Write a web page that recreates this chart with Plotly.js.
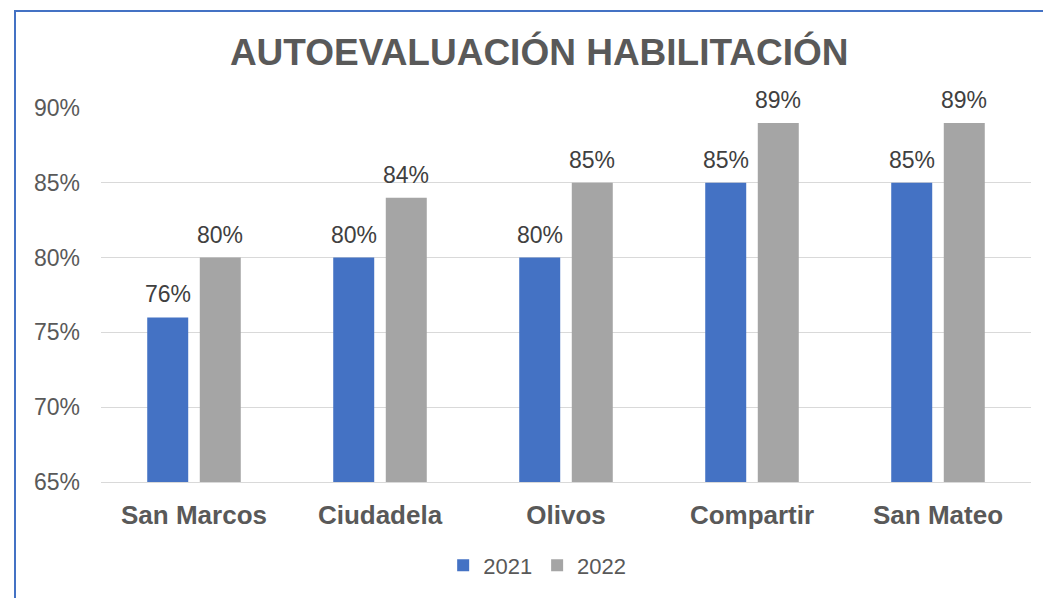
<!DOCTYPE html>
<html>
<head>
<meta charset="utf-8">
<script src="https://cdn.plot.ly/plotly-3.0.1.min.js"></script>
<style>
  body { margin: 0; background: #fff; }
  #wrap { position: relative; width: 1043px; height: 598px; overflow: hidden; }
  #chart { width: 1043px; height: 598px; }
  #frame {
    position: absolute; left: 14px; top: 10px; width: 1100px; height: 700px;
    border-left: 2px solid #4472C4; border-top: 2px solid #4472C4;
    pointer-events: none;
  }
</style>
</head>
<body>
<div id="wrap">
  <div id="chart"></div>
  <div id="frame"></div>
</div>
<script>
// self-assessment scores per site, in percent
const sites = ['San Marcos', 'Ciudadela', 'Olivos', 'Compartir', 'San Mateo'];
const scores2021 = [76, 80, 80, 85, 85];
const scores2022 = [80, 84, 85, 89, 89];

const FONT = 'Liberation Sans, Arial, sans-serif';
const GREY_TEXT = '#595959';

function barTrace(name, vals, color) {
  return {
    type: 'bar', name: name, x: sites, y: vals,
    marker: { color: color },
    hoverinfo: 'skip'
  };
}

const data = [
  barTrace('2021', scores2021, '#4472C4'),
  barTrace('2022', scores2022, '#A5A5A5')
];

// data labels, a bit above each bar (Excel style)
function labels(vals, shift) {
  return vals.map((v, i) => ({
    x: sites[i], y: v, xref: 'x', yref: 'y',
    text: v + '%', showarrow: false,
    xshift: shift, yanchor: 'bottom', yshift: 8,
    font: { family: FONT, size: 23, color: '#404040' }
  }));
}

const layout = {
  width: 1043, height: 598,
  paper_bgcolor: '#fff', plot_bgcolor: '#fff',
  margin: { l: 101, r: 12, t: 108, b: 114 },
  font: { family: FONT, color: GREY_TEXT },
  title: {
    text: '<b>AUTOEVALUACIÓN HABILITACIÓN</b>',
    font: { family: FONT, size: 37, color: GREY_TEXT },
    x: 0.517, xanchor: 'center', y: 1 - 52 / 598, yanchor: 'middle'
  },
  barmode: 'group', bargap: 0.435, bargroupgap: 0.22,
  xaxis: {
    tickfont: { family: FONT, size: 26, color: GREY_TEXT, weight: 'bold' },
    showline: true, linecolor: '#d9d9d9', linewidth: 1,
    ticks: '', ticklabelstandoff: 10
  },
  yaxis: {
    range: [65, 90], dtick: 5, ticksuffix: '%',
    tickfont: { family: FONT, size: 23, color: GREY_TEXT },
    gridcolor: '#d9d9d9', gridwidth: 1, zeroline: false,
    ticks: '', ticklabelstandoff: 20
  },
  annotations: [...labels(scores2021, -26), ...labels(scores2022, 26)],
  showlegend: true,
  legend: {
    orientation: 'h', x: 0.469, xanchor: 'center', y: -0.223, yanchor: 'middle',
    font: { family: FONT, size: 22, color: GREY_TEXT },
    itemwidth: 30, itemsizing: 'constant', tracegroupgap: 0
  }
};

Plotly.newPlot('chart', data, layout, { displayModeBar: false, staticPlot: true });
</script>
</body>
</html>
